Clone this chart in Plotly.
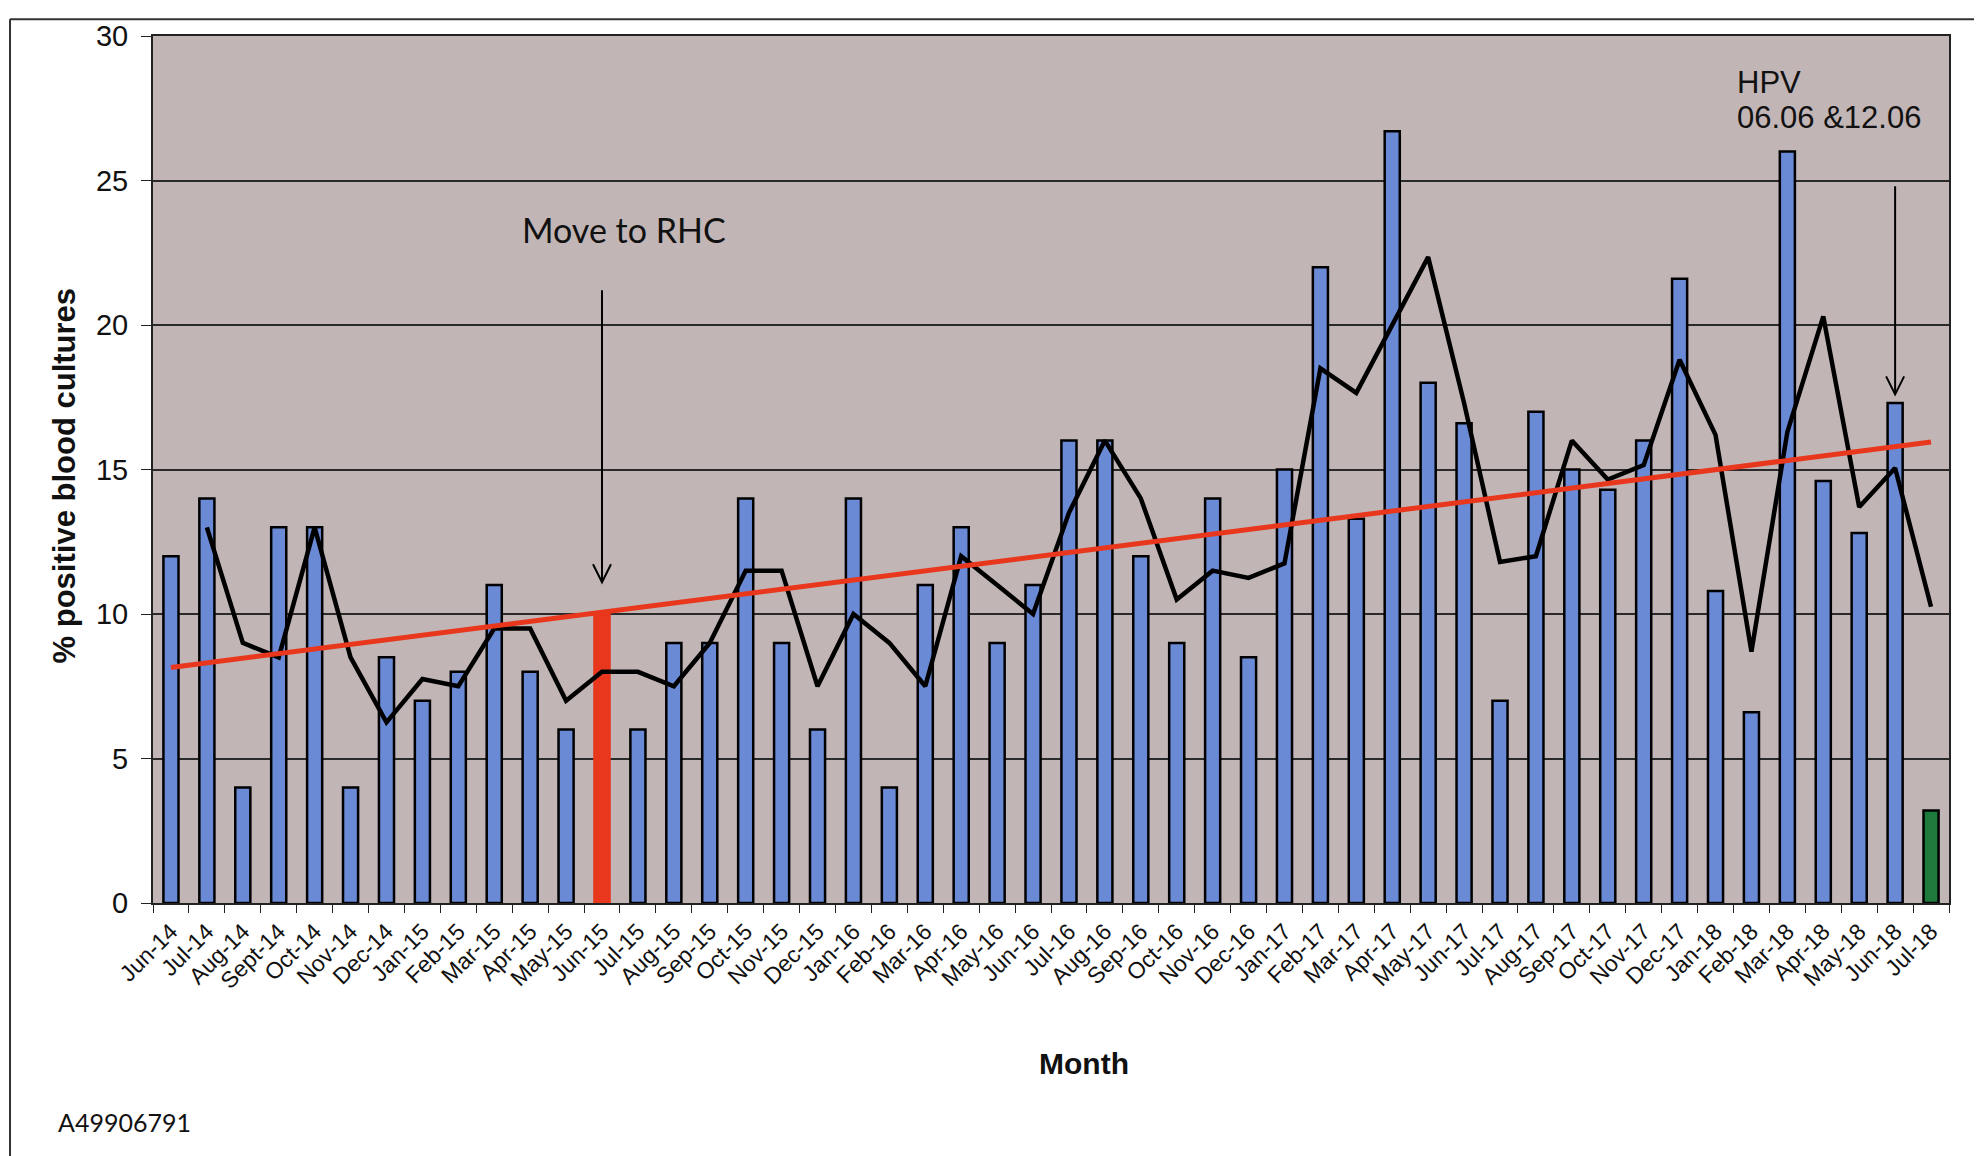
import plotly.graph_objects as go

OFF = 8                                  # default page margin of the html body
W, H = 1982 - OFF, 1156 - OFF
L, R, T, B = 145, 33, 21, 253            # plot area margins in px (figure space)

months = ['Jun-14', 'Jul-14', 'Aug-14', 'Sept-14', 'Oct-14', 'Nov-14', 'Dec-14',
          'Jan-15', 'Feb-15', 'Mar-15', 'Apr-15', 'May-15', 'Jun-15', 'Jul-15',
          'Aug-15', 'Sep-15', 'Oct-15', 'Nov-15', 'Dec-15', 'Jan-16', 'Feb-16',
          'Mar-16', 'Apr-16', 'May-16', 'Jun-16', 'Jul-16', 'Aug-16', 'Sep-16',
          'Oct-16', 'Nov-16', 'Dec-16', 'Jan-17', 'Feb-17', 'Mar-17', 'Apr-17',
          'May-17', 'Jun-17', 'Jul-17', 'Aug-17', 'Sep-17', 'Oct-17', 'Nov-17',
          'Dec-17', 'Jan-18', 'Feb-18', 'Mar-18', 'Apr-18', 'May-18', 'Jun-18',
          'Jul-18']

pct_positive = [12, 14, 4, 13, 13, 4, 8.5,
                7, 8, 11, 8, 6, 10, 6,
                9, 9, 14, 9, 6, 14, 4,
                11, 13, 9, 11, 16, 16, 12,
                9, 14, 8.5, 15, 22, 13.3, 26.7,
                18, 16.6, 7, 17, 15, 14.3, 16,
                21.6, 10.8, 6.6, 26, 14.6, 12.8, 17.3,
                3.2]

# 2-month moving average line (starts at Jul-14)
avg_months = months[1:]
moving_avg = [13, 9, 8.5, 13, 8.5, 6.25,
              7.75, 7.5, 9.5, 9.5, 7, 8, 8,
              7.5, 9, 11.5, 11.5, 7.5, 10, 9,
              7.5, 12, 11, 10, 13.5, 16, 14,
              10.5, 11.5, 11.25, 11.75, 18.5, 17.65, 20,
              22.35, 17.3, 11.8, 12, 16, 14.65, 15.15,
              18.8, 16.2, 8.7, 16.3, 20.3, 13.7, 15.05,
              10.25]

trend_months = ['Jun-14', 'Jul-18']
trend_vals = [8.15, 15.95]

BLUE = '#6A8AD6'
RED = '#E8371D'
GREEN = '#1E7A3C'
BG = '#C1B5B5'
FONT = 'Arial, Liberation Sans, sans-serif'
CAL = 'Lato, Open Sans, sans-serif'

bar_colors = [BLUE] * len(months)
bar_colors[months.index('Jun-15')] = RED
bar_colors[-1] = GREEN
line_colors = ['black'] * len(months)
line_colors[months.index('Jun-15')] = RED

pw, ph = W - L - R, H - T - B
def px(x):  # screenshot pixel x -> paper
    return (x - OFF - L) / pw
def py(y):  # screenshot pixel y -> paper
    return (H - B - (y - OFF)) / ph

fig = go.Figure()
fig.add_trace(go.Bar(x=months, y=pct_positive, width=0.42,
                     marker=dict(color=bar_colors, line=dict(color=line_colors, width=2.5)),
                     showlegend=False))
fig.add_trace(go.Scatter(x=avg_months, y=moving_avg, mode='lines',
                         line=dict(color='black', width=4.5), showlegend=False))
fig.add_trace(go.Scatter(x=trend_months, y=trend_vals, mode='lines',
                         line=dict(color=RED, width=5), showlegend=False))

shapes = []
# event arrows
for mth, y_top, y_tip in [('Jun-15', 21.2, 11.1), ('Jun-18', 24.8, 17.6)]:
    shapes.append(dict(type='line', xref='x', yref='y', x0=mth, x1=mth, y0=y_top, y1=y_tip,
                       line=dict(color='black', width=2)))
    shapes.append(dict(type='path', xref='x', yref='y', xsizemode='pixel', ysizemode='pixel',
                       xanchor=mth, yanchor=y_tip, path='M -9,18 L 0,0 L 9,18',
                       line=dict(color='black', width=2)))
# outer frame (top and left)
shapes.append(dict(type='line', xref='paper', yref='paper', x0=px(10), x1=px(1990),
                   y0=py(12), y1=py(12), line=dict(color='#333', width=2)))
shapes.append(dict(type='line', xref='paper', yref='paper', x0=px(10), x1=px(10),
                   y0=py(12), y1=py(1165), line=dict(color='#333', width=2)))

annotations = [
    dict(text='Move to RHC', x=px(520), y=py(224), xref='paper', yref='paper',
         xanchor='left', yanchor='middle', showarrow=False,
         font=dict(family=CAL, size=34, color='#111')),
    dict(text='HPV', x=px(1735), y=py(76), xref='paper', yref='paper',
         xanchor='left', yanchor='middle', showarrow=False,
         font=dict(family=FONT, size=31, color='#111')),
    dict(text='06.06 &12.06', x=px(1735), y=py(111), xref='paper', yref='paper',
         xanchor='left', yanchor='middle', showarrow=False,
         font=dict(family=FONT, size=31, color='#111')),
    dict(text='<b>Month</b>', x=px(1084), y=py(1065), xref='paper', yref='paper',
         xanchor='center', yanchor='middle', showarrow=False,
         font=dict(family=FONT, size=30, color='#111')),
    dict(text='<b>% positive blood cultures</b>', x=px(64), y=py(472), xref='paper', yref='paper',
         xanchor='center', yanchor='middle', showarrow=False, textangle=-90,
         font=dict(family=FONT, size=31, color='#111')),
    dict(text='A49906791', x=px(56), y=py(1124), xref='paper', yref='paper',
         xanchor='left', yanchor='middle', showarrow=False,
         font=dict(family=CAL, size=25, color='#111')),
]

fig.update_layout(
    width=W, height=H,
    margin=dict(l=L, r=R, t=T, b=B),
    paper_bgcolor='white', plot_bgcolor=BG,
    font=dict(family=FONT, color='#111'),
    shapes=shapes, annotations=annotations,
    xaxis=dict(type='category', tickangle=-45, tickfont=dict(size=23, color='#111'),
               tickson='boundaries', ticks='outside', ticklen=8, tickcolor='#222',
               ticklabelstandoff=4,
               showgrid=False, showline=True, linecolor='#222', linewidth=2, mirror=True,
               range=[-0.5, len(months) - 0.5]),
    yaxis=dict(range=[0, 30], dtick=5, tickfont=dict(size=29, color='#111'),
               ticks='outside', ticklen=10, tickcolor='#222', ticklabelstandoff=7,
               showgrid=True, gridcolor='#2a2a2a', gridwidth=1.8, zeroline=False,
               showline=True, linecolor='#222', linewidth=2, mirror=True),
)

fig.write_html('out.html')
